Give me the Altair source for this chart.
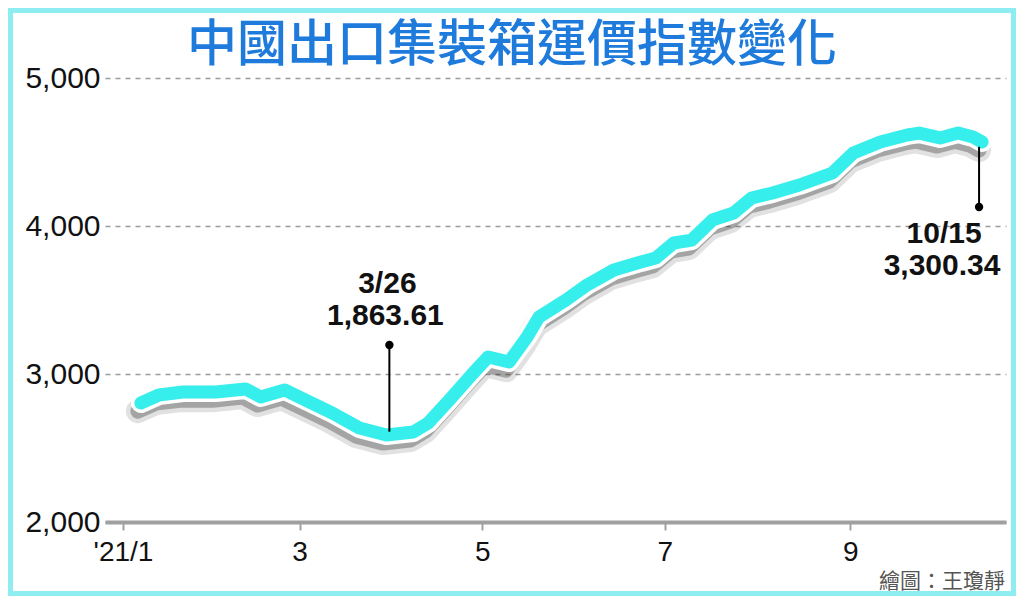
import altair as alt
import pandas as pd

# ---- data ----
dates = ["2021-01-07", "2021-01-13", "2021-01-21", "2021-02-01", "2021-02-11",
         "2021-02-16", "2021-02-24", "2021-03-03", "2021-03-12", "2021-03-21",
         "2021-03-30", "2021-04-08", "2021-04-13", "2021-04-20", "2021-04-28",
         "2021-05-03", "2021-05-10", "2021-05-16", "2021-05-20", "2021-05-29",
         "2021-06-05", "2021-06-14", "2021-06-23", "2021-06-28", "2021-07-04",
         "2021-07-10", "2021-07-17", "2021-07-24", "2021-07-30", "2021-08-06",
         "2021-08-15", "2021-08-26", "2021-09-02", "2021-09-11", "2021-09-20",
         "2021-09-24", "2021-10-01", "2021-10-07", "2021-10-12", "2021-10-15"]
values = [2804, 2858, 2878, 2878, 2899, 2845, 2892, 2824, 2736, 2635,
          2588, 2608, 2669, 2824, 3007, 3115, 3081, 3250, 3385, 3500,
          3601, 3703, 3757, 3784, 3885, 3905, 4041, 4088, 4189, 4223,
          4277, 4358, 4493, 4568, 4615, 4628, 4595, 4628, 4601, 4568]

ann_dates = ["2021-03-31", "2021-10-14"]
ann_labels = ["3/26", "10/15"]
ann_numbers = ["1,863.61", "3,300.34"]
ann_line = [2610, 4535]      # where the leader meets the curve
ann_end = [3196, 4128]       # dot end of the leader

title_text = "中國出口集裝箱運價指數變化"
credit_text = "繪圖：王瓊靜"
x_tick_months = [1, 3, 5, 7, 9]
y_ticks = [2000, 3000, 4000, 5000]

# ---- tables ----
df = pd.DataFrame({"date": pd.to_datetime(dates), "value": values})
shadow = pd.DataFrame({"date": pd.to_datetime(dates) - pd.Timedelta(days=1),
                       "value": [v - 55 for v in values]})
ann = pd.DataFrame({"date": pd.to_datetime(ann_dates), "label": ann_labels,
                    "num": ann_numbers, "line": ann_line, "value": ann_end})

LABEL_FONT = "Liberation Sans"
CJK_FONT = "Noto Sans CJK TC"

X = alt.X("date:T",
          scale=alt.Scale(domain=[alt.DateTime(year=2020, month=12, date=26),
                                  alt.DateTime(year=2021, month=10, date=23)]),
          axis=alt.Axis(values=[alt.DateTime(year=2021, month=m, date=1) for m in x_tick_months],
                        labelExpr="month(datum.value) == 0 ? \"'21/1\" : '' + (month(datum.value) + 1)",
                        title=None, grid=False, domainColor="#a0a0a0", domainWidth=4,
                        tickColor="#a0a0a0", tickWidth=2, tickSize=8,
                        labelFont=LABEL_FONT, labelFontSize=28, labelColor="#111",
                        labelPadding=8))
Y = alt.Y("value:Q",
          scale=alt.Scale(domain=[2000, 5000], nice=False),
          axis=alt.Axis(values=y_ticks, format=",d", title=None, ticks=False, domain=False,
                        grid=True, gridDash=[5, 5], gridColor="#9a9a9a", gridWidth=1.5,
                        labelFont=LABEL_FONT, labelFontSize=30, labelColor="#111",
                        labelPadding=5))

shadow_wide = alt.Chart(shadow).mark_line(
    color="#333333", opacity=0.15, strokeWidth=24, strokeCap="round", strokeJoin="round"
).encode(x=X, y=Y)
shadow_core = alt.Chart(shadow).mark_line(
    color="#333333", opacity=0.35, strokeWidth=15, strokeCap="round", strokeJoin="round"
).encode(x=X, y=Y)
outline = alt.Chart(df).mark_line(
    color="white", strokeWidth=20, strokeCap="round", strokeJoin="round"
).encode(x=X, y=Y)
cyan = alt.Chart(df).mark_line(
    color="#36EEEC", strokeWidth=13, strokeCap="round", strokeJoin="round"
).encode(x=X, y=Y)

rules = alt.Chart(ann).mark_rule(color="black", strokeWidth=2).encode(
    x=X, y=alt.Y("line:Q", scale=alt.Scale(domain=[2000, 5000], nice=False)), y2="value:Q")
dots = alt.Chart(ann).mark_circle(color="black", opacity=1, size=70).encode(x=X, y=Y)

txt_style = dict(font=LABEL_FONT, fontSize=30, fontWeight="bold", color="#111",
                 align="center", baseline="alphabetic")
lab1 = alt.Chart(ann[ann.label == "3/26"]).mark_text(dx=-2, dy=-52, **txt_style).encode(
    x=X, y=Y, text="label:N")
num1 = alt.Chart(ann[ann.label == "3/26"]).mark_text(dx=-4, dy=-20, **txt_style).encode(
    x=X, y=Y, text="num:N")
lab2 = alt.Chart(ann[ann.label == "10/15"]).mark_text(dx=-35, dy=36, **txt_style).encode(
    x=X, y=Y, text="label:N")
num2 = alt.Chart(ann[ann.label == "10/15"]).mark_text(dx=-37, dy=68, **txt_style).encode(
    x=X, y=Y, text="num:N")

title = alt.Chart(pd.DataFrame({"t": [title_text]})).mark_text(
    font=CJK_FONT, fontSize=50, fontWeight=500, color="#1E7BDC",
    align="center", baseline="middle"
).encode(text="t:N", x=alt.value(407), y=alt.value(-32))

credit = alt.Chart(pd.DataFrame({"t": [credit_text]})).mark_text(
    font=CJK_FONT, fontSize=21, color="#555555", align="right", baseline="alphabetic"
).encode(text="t:N", x=alt.value(900), y=alt.value(510))

frame = alt.Chart(pd.DataFrame({"a": [0]})).mark_rect(
    filled=False, stroke="#8EEDF0", strokeWidth=5
).encode(x=alt.value(-94.5), x2=alt.value(908.5), y=alt.value(-67.5), y2=alt.value(515.5))

chart = alt.layer(
    frame, shadow_wide, shadow_core, outline, cyan, rules, dots, lab1, num1, lab2, num2,
    title, credit
).properties(
    width=901, height=444,
    autosize=alt.AutoSizeParams(type="none"),
    padding={"left": 97, "top": 70, "right": 10, "bottom": 74},
).configure(background="white", view=alt.ViewConfig(stroke=None))

chart.save("out.html", embed_options={"renderer": "svg", "actions": False})
